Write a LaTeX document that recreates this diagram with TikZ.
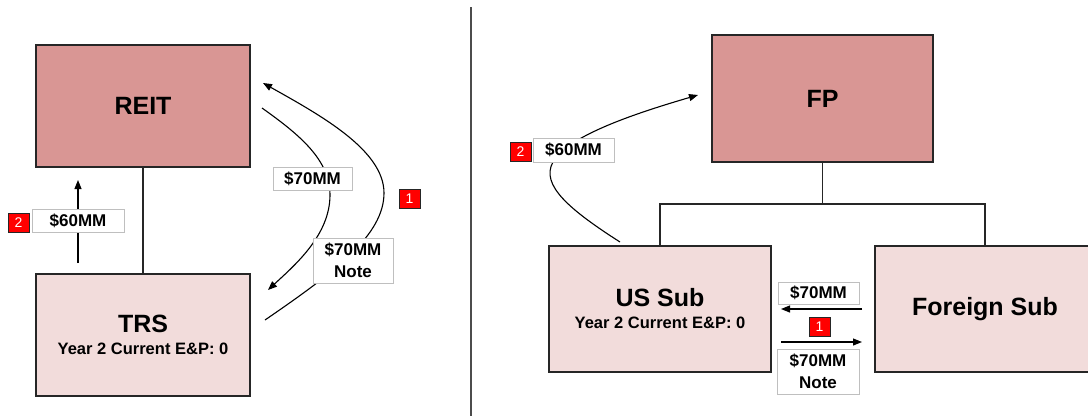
\documentclass[tikz,border=0pt]{standalone}
\usepackage{fontspec}
\setmainfont{Liberation Sans}
\usetikzlibrary{arrows.meta}
\definecolor{parentfill}{HTML}{D99694}
\definecolor{subfill}{HTML}{F2DCDB}
\definecolor{boxline}{HTML}{262626}
\begin{document}
\begin{tikzpicture}[x=1pt, y=-1pt,
  entity/.style={draw=boxline, line width=1.3pt, inner sep=0pt, align=center, font=\bfseries\fontsize{25}{22}\selectfont},
  amount/.style={draw=black!25, fill=white, inner sep=0pt, minimum height=23pt, align=center, font=\bfseries\fontsize{17}{21.5}\selectfont},
  badge/.style={draw=boxline, line width=0.6pt, fill=red, text=white, inner sep=0pt, minimum width=21pt, minimum height=19pt, font=\fontsize{14}{14}\selectfont},
  link/.style={line width=1.2pt, draw=boxline},
  flow/.style={line width=1.1pt, -{Triangle[length=9pt,width=7pt]}}]
\useasboundingbox (0,0) rectangle (1088,416);
\draw[line width=1.3pt, black!70] (471,7) -- (471,416);
\node[entity, fill=parentfill, minimum width=214pt, minimum height=122pt] (reit) at (143,106){REIT};
\node[entity, fill=subfill, minimum width=214pt, minimum height=122pt] (trs) at (143,335){TRS\\{\fontsize{16.5}{22}\selectfont Year 2 Current E\&P: 0}};
\draw[link](reit) -- (trs);
\coordinate (div0) at (78,263);
\coordinate (div1) at (78,180);
\draw[flow](div0) -- (div1);
\node[amount, minimum width=92pt] (amt60) at (78,220.5){\$60MM};
\node[badge] (step2) at (18.5,222.5){2};
\coordinate (loan0) at (262,108);
\coordinate (loan1) at (268,290);
\draw[flow](loan0) .. controls (300,135) and (330,160) .. (330,195) .. controls (330,235) and (295,265) .. (loan1);
\coordinate (note0) at (265,320);
\coordinate (note1) at (263,83);
\draw[flow](note0) .. controls (335,272) and (384,235) .. (384,193) .. controls (384,150) and (320,115) .. (note1);
\node[amount, minimum width=79pt] (amt70) at (312.5,178.5){\$70MM};
\node[amount, minimum width=80pt, minimum height=45pt] (amt70note) at (353,260.5){\$70MM\\Note};
\node[badge] (step1) at (409.5,198.5){1};
\node[entity, fill=parentfill, minimum width=221pt, minimum height=127pt] (fp) at (822.5,98.5){FP};
\node[entity, fill=subfill, minimum width=222pt, minimum height=126pt] (ussub) at (660,309){US Sub\\{\fontsize{16.5}{22}\selectfont Year 2 Current E\&P: 0}};
\node[entity, fill=subfill, minimum width=220pt, minimum height=126pt] (fsub) at (985,309){Foreign Sub};
\coordinate (bar) at (822.5,204);
\draw[link](fp.south) -- (bar);
\draw[link](ussub.north) |- (bar) -| (fsub.north);
\coordinate (fl0) at (862,309);
\coordinate (fl1) at (781,309);
\coordinate (fn0) at (781,342);
\coordinate (fn1) at (862,342);
\draw[flow](fl0) -- (fl1);
\draw[flow](fn0) -- (fn1);
\node[amount, minimum width=81pt, minimum height=22pt] (famt70) at (818.5,293){\$70MM};
\node[badge] (fstep1) at (819.5,326.5){1};
\node[amount, minimum width=82pt, minimum height=45pt] (famt70note) at (818,371.5){\$70MM\\Note};
\coordinate (up0) at (620,242);
\coordinate (up1) at (698,95);
\draw[flow](up0) .. controls (570,210) and (540,185) .. (553,162) .. controls (568,135) and (640,112) .. (up1);
\node[amount, minimum width=81pt, minimum height=24pt] (famt60) at (573.5,150){\$60MM};
\node[badge] (fstep2) at (520.5,152){2};
\end{tikzpicture}
\end{document}
